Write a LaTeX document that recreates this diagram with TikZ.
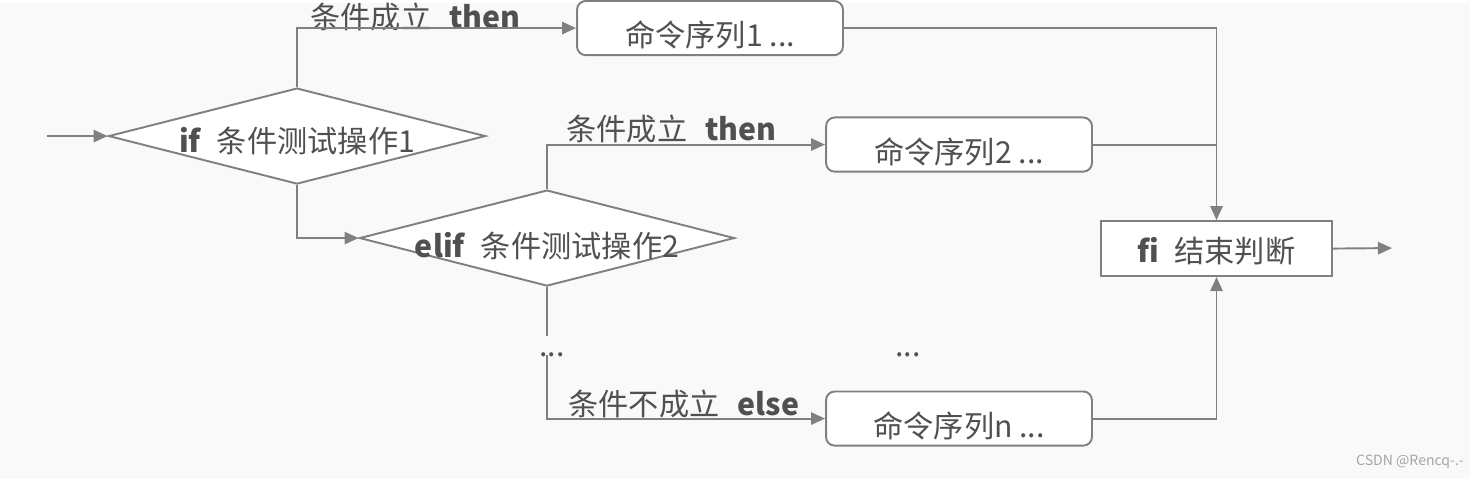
\documentclass[tikz,border=0pt]{standalone}
\usepackage{fontspec}
\setmainfont{Noto Sans CJK SC}
\usetikzlibrary{arrows.meta,shapes.geometric}
\definecolor{linegray}{HTML}{808080}
\definecolor{textgray}{HTML}{505050}
\definecolor{paper}{HTML}{F9F9F9}

\begin{document}
\begin{tikzpicture}[
    x=0.02cm, y=-0.02cm,
    every node/.style={font=\fontsize{17.2pt}{20pt}\selectfont, text=textgray},
    wire/.style={draw=linegray, line width=1.1pt},
    arr/.style={wire, -{Triangle[length=8pt,width=7pt]}},
    test/.style={diamond, draw=linegray, line width=1.1pt, fill=white,
                 inner sep=0pt, aspect=3.9},
    cmdbox/.style={rectangle, rounded corners=5pt, draw=linegray,
                   line width=1.1pt, fill=white, minimum width=5.32cm,
                   text height=0.8cm, text depth=0.05cm},
]
    \fill[paper] (0,0) rectangle (1470,476);

    % tests
    \node[test, minimum width=7.54cm, minimum height=1.92cm,
          label={[yshift=-0.1cm]center:\textbf{if}\hspace{0.5em}条件测试操作1}]
        (iftest) at (297,133) {};
    \node[test, minimum width=7.5cm, minimum height=1.92cm,
          label={[yshift=-0.16cm]center:\textbf{elif}\hspace{0.5em}条件测试操作2}]
        (eliftest) at (547,235) {};

    % command blocks
    \node[cmdbox, minimum height=1.0cm] (cmda) at (710,25) {命令序列1 ...};
    \node[cmdbox, minimum height=1.06cm] (cmdb) at (959,141.5) {命令序列2 ...};
    \node[cmdbox, minimum height=1.06cm] (cmdn) at (959,415.5) {命令序列n ...};
    \node[rectangle, draw=linegray, line width=1.1pt, fill=white,
          minimum width=4.62cm, minimum height=1.1cm,
          text height=0.62cm, text depth=0.05cm] (fiend)
        at (1216.5,245.5) {\textbf{fi}\hspace{0.5em}结束判断};

    % labels
    \node[anchor=base west, inner sep=0pt] (thena) at (310,25)
        {条件成立\hspace{0.6em}\textbf{then}};
    \node[anchor=base west, inner sep=0pt] (thenb) at (566,137)
        {条件成立\hspace{0.6em}\textbf{then}};
    \node[anchor=base west, inner sep=0pt] (elsen) at (568,412)
        {条件不成立\hspace{0.6em}\textbf{else}};
    \node (dotsa) at (552,352) {...};
    \node (dotsb) at (908,352) {...};
    \node[font=\fontsize{8pt}{9pt}\selectfont, text=gray!70] (mark)
        at (1410,459) {CSDN @Rencq-.-};

    \coordinate (start) at (47,133);
    \coordinate (stub) at (547,333);
    \coordinate (resume) at (547,352);
    \coordinate (finish) at (1392,245);

    % connectors
    \draw[arr] (start) -- (iftest.west);
    \draw[arr] (iftest.north) |- (cmda.west);
    \draw[arr] (iftest.south) |- (eliftest.west);
    \draw[arr] (eliftest.north) |- (cmdb.west);
    \draw[wire] (eliftest.south) -- (stub);
    \draw[arr] (resume) |- (cmdn.west);
    \draw[arr] (cmda.east) -| (fiend.north);
    \draw[wire] (cmdb.east) -- (cmdb.east -| fiend.north);
    \draw[arr] (cmdn.east) -| (fiend.south);
    \draw[arr] (fiend.east) -- (finish);
\end{tikzpicture}
\end{document}
